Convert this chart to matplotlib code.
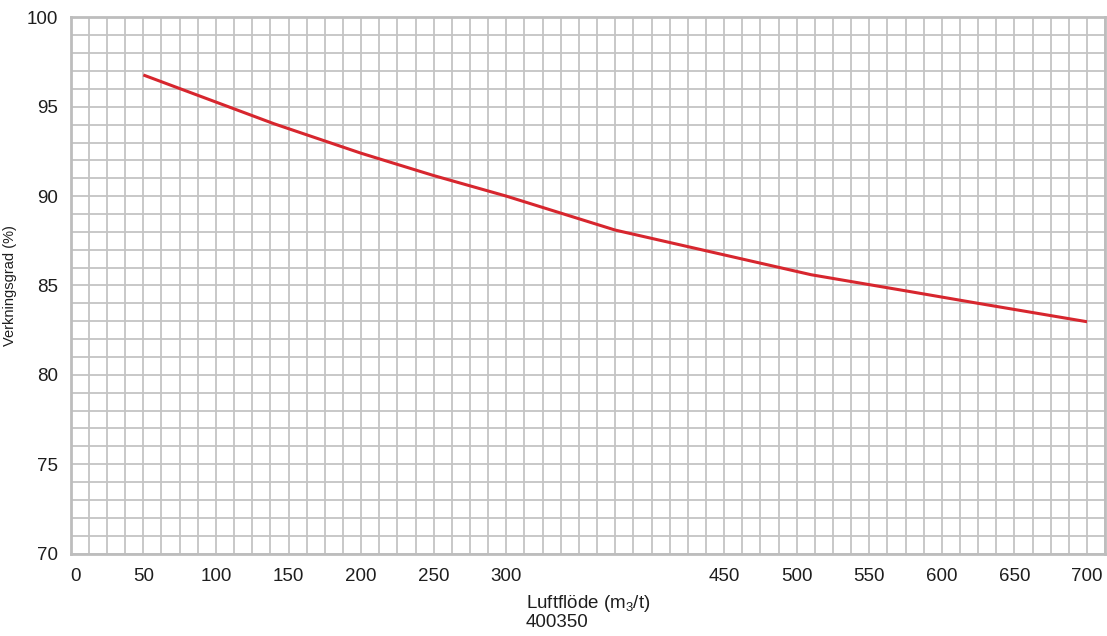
import matplotlib
matplotlib.use("Agg")
import matplotlib.pyplot as plt
from matplotlib.ticker import MultipleLocator

plt.rcParams["font.family"] = ["Liberation Sans", "DejaVu Sans"]
plt.rcParams["mathtext.fontset"] = "custom"
plt.rcParams["mathtext.rm"] = "Liberation Sans"
plt.rcParams["mathtext.it"] = "Liberation Sans:italic"

# efficiency curve
flow = [50, 140, 200, 250, 300, 375, 510, 575, 625, 700]
efficiency = [96.78, 94.05, 92.4, 91.15, 90.0, 88.1, 85.6, 84.7, 84.0, 82.97]

# x tick labels as shown (350 and 400 are missing on the axis)
xticks = [0, 50, 100, 150, 200, 250, 300, 450, 500, 550, 600, 650, 700]
yticks = [70, 75, 80, 85, 90, 95, 100]

GRID = "#c4c4c4"
RED = "#d7262e"
TXT = "#1e1e1e"

fig = plt.figure(figsize=(11.07, 6.36), dpi=100)
ax = fig.add_axes([0.0639, 0.1297, 0.9345, 0.8429])

ax.plot(flow, efficiency, color=RED, lw=2.2, solid_capstyle="butt", zorder=3)

ax.set_xlim(0, 712.5)
ax.set_ylim(70, 100)
ax.set_xticks(xticks)
ax.set_yticks(yticks)
ax.xaxis.set_minor_locator(MultipleLocator(12.5))
ax.yaxis.set_minor_locator(MultipleLocator(1))
ax.grid(which="both", color=GRID, lw=1.3)
ax.set_axisbelow(True)
ax.tick_params(which="both", length=0, labelsize=13.5, colors=TXT)
ax.tick_params(axis="x", pad=10.5)
ax.tick_params(axis="y", pad=9)
ax.get_xticklabels()[0].set_ha("left")
for s in ax.spines.values():
    s.set_color("#bdbdbd")
    s.set_linewidth(2)

ax.set_ylabel("Verkningsgrad (%)", fontsize=10.5, color=TXT)
ax.yaxis.set_label_coords(-0.052, 0.5)
ax.set_xlabel("Luftflöde (m$_3$/t)\n400350", fontsize=13.5, color=TXT,
              multialignment="left", linespacing=0.95, labelpad=6)

fig.savefig("out.png", dpi=100, facecolor="white")
